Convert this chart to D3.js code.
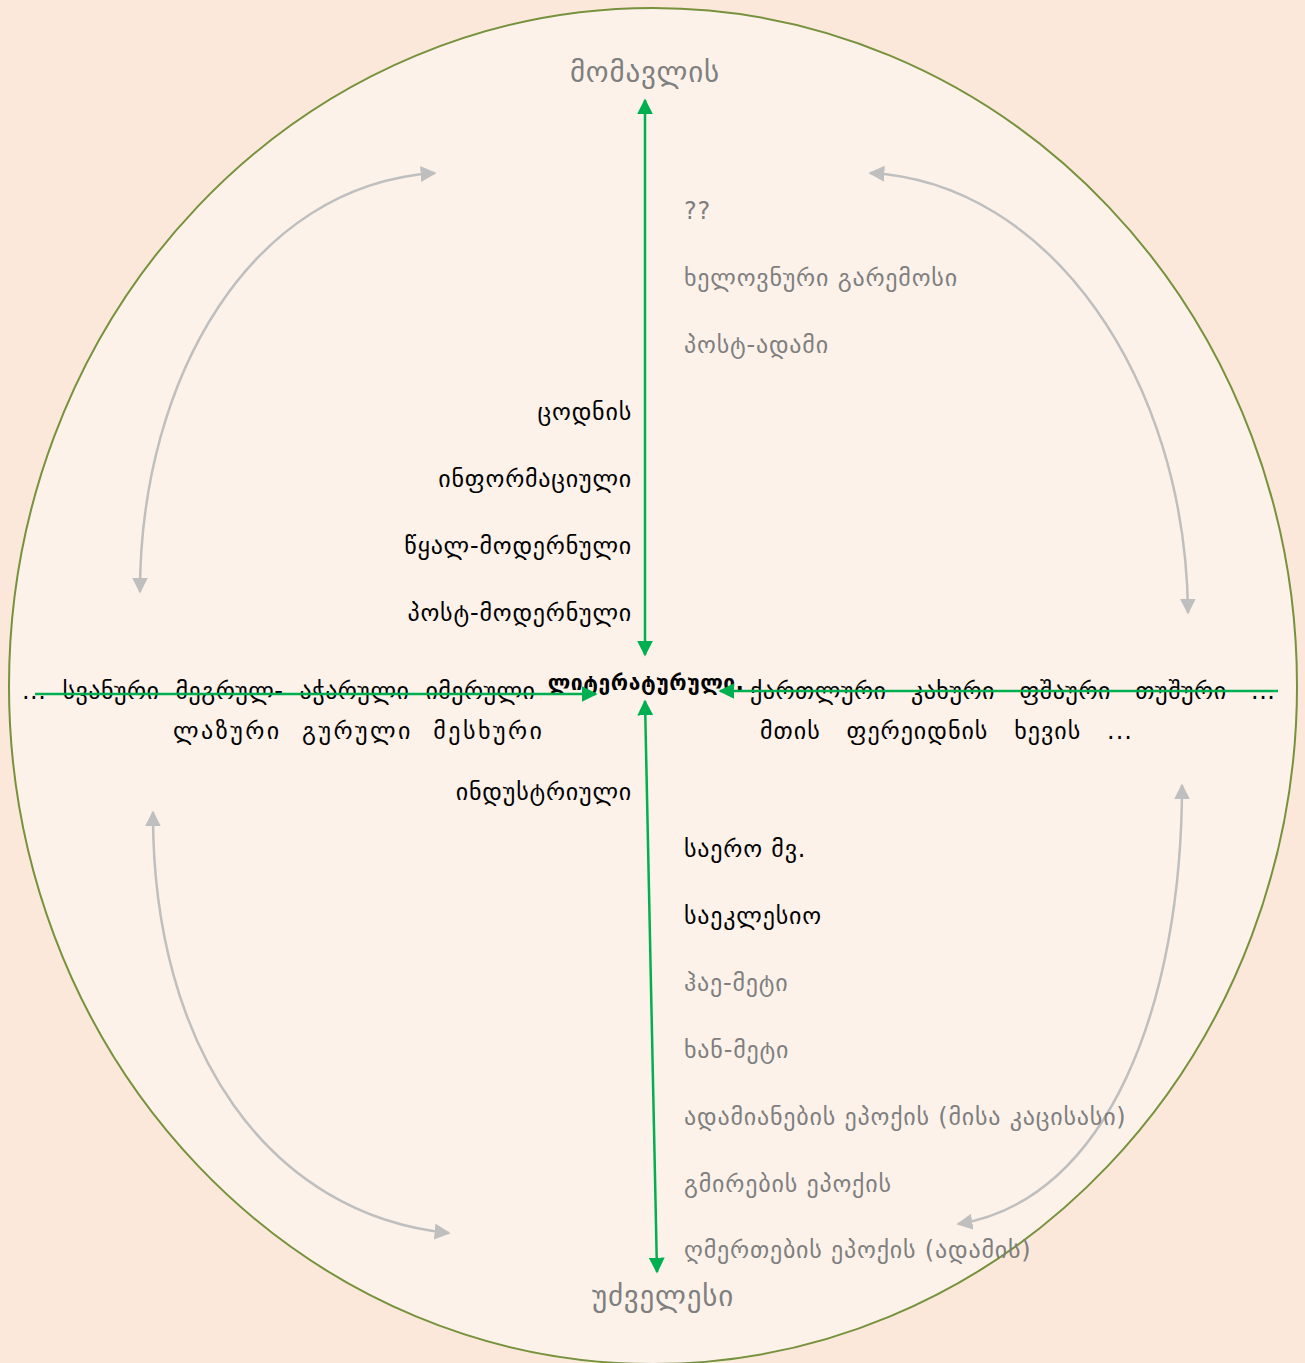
<!DOCTYPE html>
<html>
<head>
<meta charset="utf-8">
<script src="https://cdn.jsdelivr.net/npm/d3@7"></script>
<style>
  html, body { margin: 0; padding: 0; background: #fbe8da; }
  svg text { font-family: "DejaVu Sans", "Noto Sans", sans-serif; white-space: pre; }
</style>
</head>
<body>
<script>
// canvas size
const width = 1305;
const height = 1363;

// time axis ends
const axisLabels = ["მომავლის", "უძველესი"];
const centerLabel = "ლიტერატურული.";

// upper half (future / modern)
const futureLabels = ["??", "ხელოვნური გარემოსი", "პოსტ-ადამი"];
const modernLabels = ["ცოდნის", "ინფორმაციული", "წყალ-მოდერნული", "პოსტ-მოდერნული"];

// lower half (past)
const industrialLabels = ["ინდუსტრიული"];
const pastLabels = [
  "საერო მვ.",
  "საეკლესიო",
  "ჰაე-მეტი",
  "ხან-მეტი",
  "ადამიანების ეპოქის (მისა კაცისასი)",
  "გმირების ეპოქის",
  "ღმერთების ეპოქის (ადამის)",
];
const pastKind = ["written", "written", "old", "old", "old", "old", "old"];

// dialects on the horizontal line
const westDialects = [
  ["...", "სვანური", "მეგრულ-", "აჭარული", "იმერული"],
  ["ლაზური", "გურული", "მესხური"],
];
const eastDialects = [
  ["ქართლური", "კახური", "ფშაური", "თუშური", "..."],
  ["მთის", "ფერეიდნის", "ხევის", "..."],
];

const green = "#00b050";
const grey = "#bfbfbf";
const textGrey = "#7f7f7f";

const svg = d3
  .select("body")
  .append("svg")
  .attr("width", width)
  .attr("height", height);

// arrow heads
const defs = svg.append("defs");
function addMarker(id, color, size) {
  defs
    .append("marker")
    .attr("id", id)
    .attr("viewBox", "0 0 10 10")
    .attr("refX", 9)
    .attr("refY", 5)
    .attr("markerUnits", "userSpaceOnUse")
    .attr("markerWidth", size)
    .attr("markerHeight", size)
    .attr("orient", "auto-start-reverse")
    .append("path")
    .attr("d", "M0,0 L10,5 L0,10 Z")
    .attr("fill", color);
}
addMarker("headGreen", green, 16);
addMarker("headGrey", grey, 16);

// big ellipse
const cx = 653, cy = 686;
svg
  .append("ellipse")
  .attr("cx", cx)
  .attr("cy", cy)
  .attr("rx", 644)
  .attr("ry", 678)
  .attr("fill", "#fcf2ea")
  .attr("stroke", "#76923c")
  .attr("stroke-width", 2);

// scales for the vertical lists
const yFuture = d3.scalePoint().domain(futureLabels).range([211, 345]);
const yModern = d3.scalePoint().domain(modernLabels).range([412, 613]);
const yPast = d3.scalePoint().domain(pastLabels).range([849, 1250]);
const pastColor = d3.scaleOrdinal().domain(["written", "old"]).range(["#000", textGrey]);

// curved grey arrows (one per quadrant)
const curves = [
  [[140, 592], [140, 380], [250, 185], [435, 173]],
  [[870, 173], [1050, 182], [1186, 380], [1188, 613]],
  [[153, 812], [152, 1050], [270, 1215], [449, 1233]],
  [[1182, 785], [1182, 1000], [1110, 1200], [958, 1224]],
];
svg
  .append("g")
  .selectAll("path")
  .data(curves)
  .join("path")
  .attr("d", (p) => {
    const path = d3.path();
    path.moveTo(p[0][0], p[0][1]);
    path.bezierCurveTo(p[1][0], p[1][1], p[2][0], p[2][1], p[3][0], p[3][1]);
    return path.toString();
  })
  .attr("fill", "none")
  .attr("stroke", grey)
  .attr("stroke-width", 2.5)
  .attr("marker-start", "url(#headGrey)")
  .attr("marker-end", "url(#headGrey)");

// text lists
const fs = 24;
const ls = "0.8px";
function listText(g, data, x, yFn, anchor, colorFn) {
  g.selectAll("text")
    .data(data)
    .join("text")
    .attr("x", x)
    .attr("y", yFn)
    .attr("dy", "0.35em")
    .attr("text-anchor", anchor)
    .attr("fill", colorFn)
    .style("font-size", fs + "px")
    .style("letter-spacing", ls)
    .text((d) => d);
}
listText(svg.append("g"), futureLabels, 684, (d) => yFuture(d), "start", textGrey);
listText(svg.append("g"), modernLabels, 632, (d) => yModern(d), "end", "#000");
listText(svg.append("g"), industrialLabels, 632, 792, "end", "#000");
listText(svg.append("g"), pastLabels, 684, (d) => yPast(d), "start", (d, i) => pastColor(pastKind[i]));

// dialect rows
const rowY = [691, 731];
svg
  .append("g")
  .selectAll("text")
  .data(westDialects)
  .join("text")
  .attr("x", (d, i) => (i === 0 ? 535 : 542))
  .attr("y", (d, i) => rowY[i])
  .attr("dy", "0.35em")
  .attr("text-anchor", "end")
  .attr("fill", "#000")
  .attr("textLength", (d, i) => (i === 0 ? 513 : 369))
  .attr("lengthAdjust", "spacing")
  .style("font-size", fs + "px")
  .text((d) => d.join("  "));

svg
  .append("g")
  .selectAll("text")
  .data(eastDialects)
  .join("text")
  .attr("x", (d, i) => (i === 0 ? 750 : 760))
  .attr("y", (d, i) => rowY[i])
  .attr("dy", "0.35em")
  .attr("fill", "#000")
  .attr("textLength", (d, i) => (i === 0 ? 525 : 372))
  .attr("lengthAdjust", "spacing")
  .style("font-size", fs + "px")
  .text((d) => d.join("   "));

// center label
svg
  .append("text")
  .attr("x", 646)
  .attr("y", 683)
  .attr("dy", "0.35em")
  .attr("text-anchor", "middle")
  .attr("font-weight", "bold")
  .attr("fill", "#000")
  .style("font-size", "21px")
  .style("letter-spacing", "0.6px")
  .text(centerLabel);

// axis end labels
svg
  .append("g")
  .selectAll("text")
  .data(axisLabels)
  .join("text")
  .attr("x", (d, i) => (i === 0 ? 645 : 663))
  .attr("y", (d, i) => (i === 0 ? 72 : 1296))
  .attr("dy", "0.35em")
  .attr("text-anchor", "middle")
  .attr("fill", textGrey)
  .style("font-size", "29px")
  .style("letter-spacing", "0.8px")
  .text((d) => d);

// green axes
const axes = [
  { x1: 645, y1: 655, x2: 645, y2: 100, both: true },
  { x1: 645, y1: 701, x2: 657, y2: 1272, both: true },
  { x1: 35, y1: 694, x2: 596, y2: 694, both: false },
  { x1: 1278, y1: 691, x2: 720, y2: 691, both: false },
];
svg
  .append("g")
  .selectAll("line")
  .data(axes)
  .join("line")
  .attr("x1", (d) => d.x1)
  .attr("y1", (d) => d.y1)
  .attr("x2", (d) => d.x2)
  .attr("y2", (d) => d.y2)
  .attr("stroke", green)
  .attr("stroke-width", 2.5)
  .attr("marker-start", (d) => (d.both ? "url(#headGreen)" : null))
  .attr("marker-end", "url(#headGreen)");
</script>
</body>
</html>
